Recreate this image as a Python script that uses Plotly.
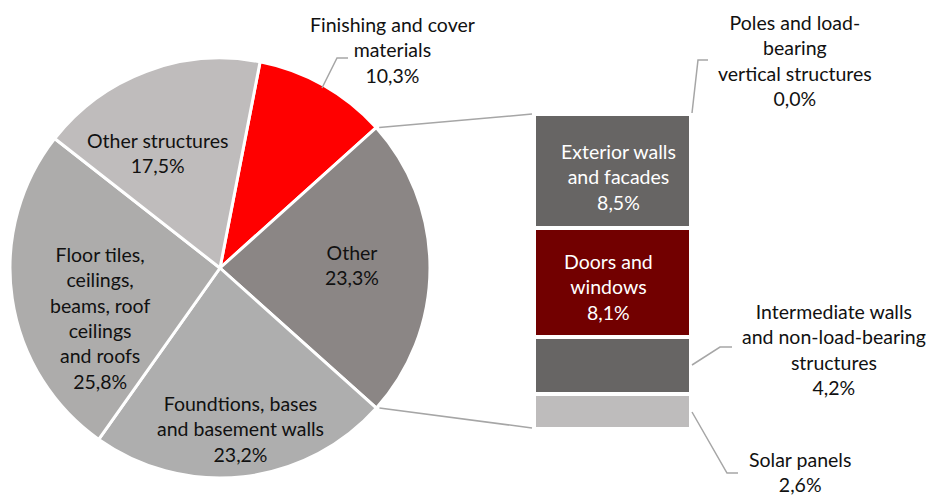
import math
import plotly.graph_objects as go

W, H = 931, 497

# ---- data ----
pie_labels = ["Finishing and cover materials", "Other", "Foundtions, bases and basement walls",
              "Floor tiles, ceilings, beams, roof ceilings and roofs", "Other structures"]
pie_values = [10.3, 23.3, 23.2, 25.8, 17.5]
pie_colors = ["#ff0000", "#8b8685", "#aeaeae", "#adacab", "#bfbcbc"]

bar_labels = ["Solar panels", "Intermediate walls and non-load-bearing structures",
              "Doors and windows", "Exterior walls and facades", "Poles and load-bearing vertical structures"]
bar_values = [2.6, 4.2, 8.1, 8.5, 0.0]
bar_colors = ["#bebcbc", "#676564", "#720000", "#676564", "#676564"]

FONT = "Lato"
TXT = "#111111"


def P(px, py):
    return px / W, 1 - py / H


# pie geometry in pixels
cx, cy, R = 220, 268, 210
rotation = 11

fig = go.Figure()

fig.add_trace(go.Pie(
    labels=pie_labels, values=pie_values, sort=False, direction="clockwise",
    rotation=rotation, marker=dict(colors=pie_colors, line=dict(color="white", width=3)),
    textinfo="none", hoverinfo="label+percent", showlegend=False,
    domain=dict(x=[(cx - R) / W, (cx + R) / W], y=[1 - (cy + R) / H, 1 - (cy - R) / H]),
))

bar_top_px, bar_bot_px = 114, 429
bar_left_px, bar_right_px = 534, 691
for lab, val, col in zip(bar_labels, bar_values, bar_colors):
    fig.add_trace(go.Bar(
        x=[0], y=[val], name=lab, marker=dict(color=col, line=dict(color="white", width=4)),
        width=1, xaxis="x2", yaxis="y2", showlegend=False, hoverinfo="name+y",
    ))

total_bar = sum(bar_values)

# connector lines from pie to bar
tot = sum(pie_values)
a1 = math.radians(rotation + 360 * pie_values[0] / tot)
a2 = math.radians(rotation + 360 * (pie_values[0] + pie_values[1]) / tot)
p1 = (cx + R * math.sin(a1) + 3, cy - R * math.cos(a1))
p2 = (cx + R * math.sin(a2) + 3, cy - R * math.cos(a2))
shapes = []
for (sx, sy), (ex, ey) in [(p1, (bar_left_px - 2, bar_top_px)), (p2, (bar_left_px - 2, bar_bot_px - 1))]:
    x0, y0 = P(sx, sy)
    x1, y1 = P(ex, ey)
    shapes.append(dict(type="line", xref="paper", yref="paper", x0=x0, y0=y0, x1=x1, y1=y1,
                       line=dict(color="#a6a6a6", width=1.5)))


def leader(pts):
    d = "M " + " L ".join("%f,%f" % P(x, y) for x, y in pts)
    return dict(type="path", xref="paper", yref="paper", path=d, line=dict(color="#a6a6a6", width=1.5))


shapes += [
    leader([(322, 88), (337, 58), (348, 58)]),
    leader([(692, 113), (698, 60), (708, 60)]),
    leader([(692, 365), (720, 347), (732, 347)]),
    leader([(692, 412), (727, 473), (738, 473)]),
]

annos = []


def lab(text, px, py, color=TXT):
    x, y = P(px, py)
    annos.append(dict(text=text, x=x, y=y, xref="paper", yref="paper", showarrow=False,
                      xanchor="center", yanchor="middle", align="center",
                      font=dict(family=FONT, size=19.5, color=color)))


lab("Finishing and cover<br>materials<br>10,3%", 392, 50)
lab("Other structures<br>17,5%", 157, 153)
lab("Floor tiles,<br>ceilings,<br>beams, roof<br>ceilings<br>and roofs<br>25,8%", 100, 318)
lab("Foundtions, bases<br>and basement walls<br>23,2%", 240, 429)
lab("Other<br>23,3%", 352, 265)
lab("Poles and load-<br>bearing<br>vertical structures<br>0,0%", 795, 60)
lab("Intermediate walls<br>and non-load-bearing<br>structures<br>4,2%", 834, 349)
lab("Solar panels<br>2,6%", 800, 472)
lab("Exterior walls<br>and facades<br>8,5%", 618, 177, "white")
lab("Doors and<br>windows<br>8,1%", 608, 287, "white")

fig.update_layout(
    width=W, height=H, margin=dict(l=0, r=0, t=0, b=0),
    paper_bgcolor="white", plot_bgcolor="white", barmode="stack", bargap=0,
    xaxis2=dict(domain=[bar_left_px / W, bar_right_px / W], range=[-0.5, 0.5], visible=False,
                anchor="y2", fixedrange=True),
    yaxis2=dict(domain=[1 - bar_bot_px / H, 1 - bar_top_px / H], range=[0, total_bar], visible=False,
                anchor="x2", fixedrange=True),
    shapes=shapes, annotations=annos,
)

fig.write_html("out.html")
